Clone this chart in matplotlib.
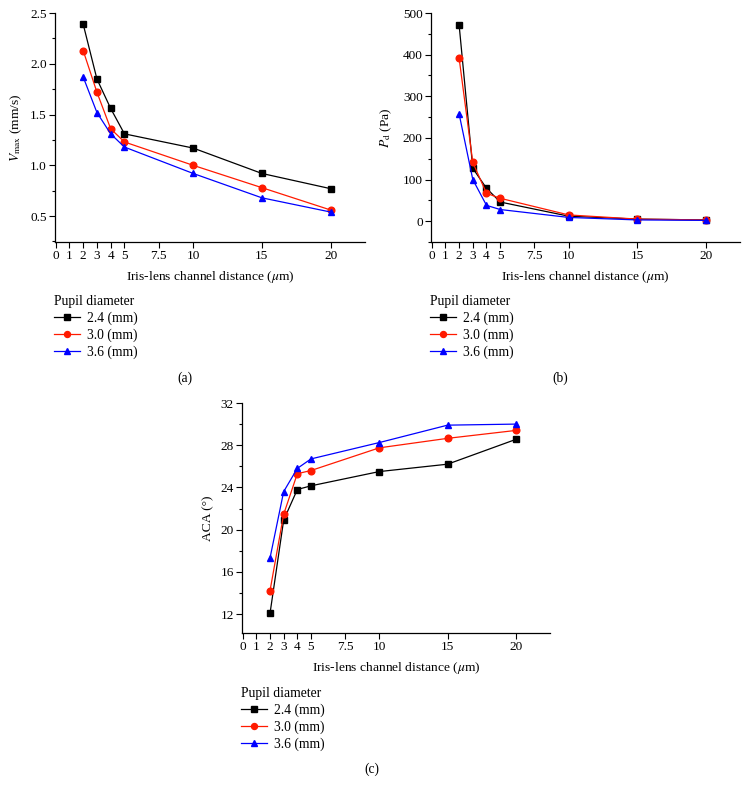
import matplotlib
matplotlib.use("Agg")
import matplotlib.pyplot as plt
from matplotlib.ticker import MultipleLocator
from matplotlib.lines import Line2D

plt.rcParams['font.family'] = ['Liberation Serif', 'DejaVu Serif']
plt.rcParams['mathtext.fontset'] = 'stix'

x = [2, 3, 4, 5, 10, 15, 20]
xticks = [0, 1, 2, 3, 4, 5, 7.5, 10, 15, 20]
xtick_labels = ['0', '1', '2', '3', '4', '5', '7.5', '10', '15', '20']
series_names = ['2.4 (mm)', '3.0 (mm)', '3.6 (mm)']

vmax_24 = [2.39, 1.85, 1.56, 1.31, 1.17, 0.92, 0.77]
vmax_30 = [2.13, 1.72, 1.36, 1.23, 1.00, 0.78, 0.56]
vmax_36 = [1.87, 1.52, 1.31, 1.18, 0.92, 0.68, 0.54]

pd_24 = [472, 127, 79, 46, 12, 5, 3]
pd_30 = [392, 141, 67, 55, 15, 5, 3]
pd_36 = [258, 100, 38, 28, 9, 3, 2]

aca_24 = [12.05, 20.9, 23.8, 24.15, 25.5, 26.2, 28.55]
aca_30 = [14.2, 21.45, 25.3, 25.6, 27.75, 28.65, 29.4]
aca_36 = [17.3, 23.6, 25.8, 26.7, 28.25, 29.9, 30.0]

colors = ['black', '#ff1a00', '#0000ff']
markers = ['s', 'o', '^']
msizes = [4.3, 4.8, 5.0]

W, H = 749, 795
fig = plt.figure(figsize=(W / 100, H / 100), dpi=100)

FS = 9.5

def add_ax(left, right, top, bottom):
    return fig.add_axes([left / W, 1 - bottom / H, (right - left) / W, (bottom - top) / H])

def style(ax, ylim, ymajor, yminor, ylabel, ylab_x):
    ax.set_xlim(-0.05, 22.5)
    ax.set_ylim(*ylim)
    ax.set_xticks(xticks)
    ax.set_xticklabels(xtick_labels)
    ax.yaxis.set_major_locator(MultipleLocator(ymajor))
    ax.yaxis.set_minor_locator(MultipleLocator(yminor))
    ax.spines['top'].set_visible(False)
    ax.spines['right'].set_visible(False)
    for s in ['left', 'bottom']:
        ax.spines[s].set_linewidth(0.9)
    ax.tick_params(axis='both', which='major', direction='out', length=4, width=0.8, labelsize=FS, pad=2)
    ax.tick_params(axis='y', which='minor', direction='out', length=2.5, width=0.8)
    ax.set_xlabel('Iris-lens channel distance ($\\mu$m)', fontsize=FS + 0.2, labelpad=5)
    ax.set_ylabel(ylabel, fontsize=FS + 0.2)
    ax.yaxis.set_label_coords(ylab_x, 0.5)

def plot_series(ax, data):
    for vals, c, m, ms in zip(data, colors, markers, msizes):
        ax.plot(x, vals, color=c, marker=m, markersize=ms, linewidth=0.9)

def add_legend(xl, yt):
    handles = [Line2D([0], [0], color=c, marker=m, markersize=ms - 0.5, linewidth=0.9)
               for c, m, ms in zip(colors, markers, msizes)]
    leg = fig.legend(handles, series_names, title='Pupil diameter', loc='upper left',
                     bbox_to_anchor=(xl / W, 1 - yt / H), frameon=False,
                     fontsize=FS + 0.3, title_fontsize=FS + 0.3, handlelength=1.9,
                     handletextpad=0.55, labelspacing=0.25, borderpad=0, borderaxespad=0)
    leg._legend_box.align = 'left'

# (a)
axa = add_ax(55, 365, 13, 242)
plot_series(axa, [vmax_24, vmax_30, vmax_36])
style(axa, (0.245, 2.5), 0.5, 0.25, '$V_{\\rm max}$ (mm/s)', -0.10)
add_legend(54, 295)
fig.text(185 / W, 1 - 378 / H, '(a)', ha='center', va='center', fontsize=FS + 0.3)

# (b)
axb = add_ax(431, 740, 13, 242)
plot_series(axb, [pd_24, pd_30, pd_36])
style(axb, (-50, 500), 100, 50, '$P_{\\rm d}$ (Pa)', -0.12)
add_legend(430, 295)
fig.text(560 / W, 1 - 378 / H, '(b)', ha='center', va='center', fontsize=FS + 0.3)

# (c)
axc = add_ax(242, 550, 403, 633)
plot_series(axc, [aca_24, aca_30, aca_36])
style(axc, (10.2, 32), 4, 2, 'ACA (°)', -0.09)
add_legend(241, 687)
fig.text(372 / W, 1 - 769 / H, '(c)', ha='center', va='center', fontsize=FS + 0.3)

fig.savefig('out.png', dpi=100)
